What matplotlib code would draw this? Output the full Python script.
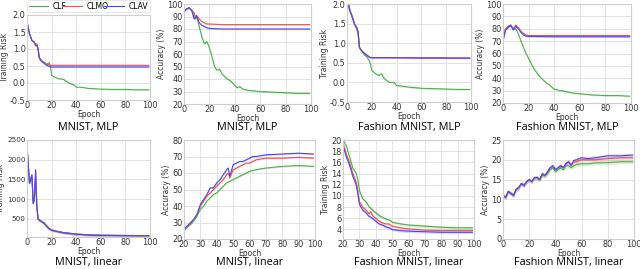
import matplotlib
matplotlib.use("Agg")
import matplotlib.pyplot as plt

# ---- data (epoch, value) ----
# MNIST, MLP - training risk
m_mlp_risk_ep = [0, 2, 4, 6, 7, 8, 9, 10, 12, 14, 16, 18, 19, 20, 22, 24, 26, 28, 30, 32, 34, 36, 38, 40, 45, 50, 60, 70, 80, 90, 99]
m_mlp_risk_clf = [1.8, 1.45, 1.25, 1.2, 1.1, 1.15, 1.0, 0.75, 0.65, 0.6, 0.55, 0.6, 0.5, 0.22, 0.18, 0.15, 0.12, 0.12, 0.1, 0.05, 0.0, -0.03, -0.05, -0.12, -0.13, -0.16, -0.18, -0.19, -0.19, -0.2, -0.2]
m_mlp_risk_ep2 = [0, 2, 4, 6, 7, 8, 9, 10, 12, 14, 16, 18, 20, 40, 60, 80, 99]
m_mlp_risk_clmo = [1.8, 1.45, 1.25, 1.2, 1.1, 1.15, 1.0, 0.75, 0.65, 0.6, 0.55, 0.53, 0.52, 0.52, 0.52, 0.52, 0.52]
m_mlp_risk_clav = [1.8, 1.45, 1.25, 1.2, 1.1, 1.1, 1.0, 0.72, 0.63, 0.57, 0.52, 0.49, 0.47, 0.47, 0.47, 0.47, 0.47]

# MNIST, MLP - accuracy
m_mlp_acc_ep = [0, 2, 4, 6, 8, 9, 10, 12, 14, 16, 18, 20, 22, 24, 26, 28, 30, 32, 34, 36, 38, 40, 42, 44, 46, 50, 55, 60, 70, 80, 90, 99]
m_mlp_acc_clf = [94, 96, 97, 95, 93, 88, 90, 82, 74, 68, 70, 65, 58, 50, 47, 48, 44, 42, 40, 39, 37, 35, 33, 34, 32, 31, 30.5, 30, 29.5, 29, 28.5, 28.5]
m_mlp_acc_ep2 = [0, 2, 4, 6, 8, 10, 12, 14, 16, 18, 20, 30, 60, 99]
m_mlp_acc_clmo = [94, 96, 97, 95, 90, 91, 88, 86, 85, 84, 84, 83.5, 83.5, 83.5]
m_mlp_acc_clav = [94, 96, 97, 95, 88, 90, 85, 83, 82, 81, 80.5, 80, 80, 80]

# Fashion MNIST, MLP - training risk
f_mlp_risk_ep = [0, 2, 4, 6, 8, 9, 10, 12, 14, 16, 18, 19, 20, 22, 24, 26, 28, 29, 30, 32, 34, 38, 40, 45, 50, 60, 70, 80, 90, 99]
f_mlp_risk_clf = [2.2, 1.9, 1.7, 1.5, 1.35, 1.2, 0.9, 0.8, 0.7, 0.65, 0.55, 0.45, 0.3, 0.25, 0.2, 0.18, 0.22, 0.15, 0.1, 0.05, 0.0, 0.0, -0.08, -0.1, -0.12, -0.15, -0.16, -0.17, -0.18, -0.18]
f_mlp_risk_ep2 = [0, 2, 4, 6, 8, 9, 10, 12, 14, 16, 18, 20, 40, 60, 80, 99]
f_mlp_risk_clmo = [2.2, 1.85, 1.7, 1.5, 1.4, 1.3, 0.9, 0.8, 0.75, 0.7, 0.65, 0.63, 0.63, 0.63, 0.63, 0.62]
f_mlp_risk_clav = [2.2, 1.85, 1.68, 1.48, 1.38, 1.28, 0.88, 0.8, 0.74, 0.69, 0.64, 0.63, 0.63, 0.62, 0.62, 0.62]

# Fashion MNIST, MLP - accuracy
f_mlp_acc_ep = [0, 2, 4, 6, 8, 10, 12, 14, 16, 18, 20, 22, 24, 26, 28, 30, 32, 34, 36, 38, 40, 42, 44, 46, 50, 55, 60, 70, 80, 90, 99]
f_mlp_acc_clf = [72, 80, 82, 83, 80, 80, 76, 70, 65, 60, 56, 52, 48, 45, 42, 40, 38, 36, 35, 33, 31, 31, 30, 30, 29, 28, 27.5, 26.5, 26, 26, 25.5]
f_mlp_acc_ep2 = [0, 2, 4, 6, 8, 10, 12, 14, 16, 18, 20, 40, 60, 99]
f_mlp_acc_clmo = [72, 80, 82, 82, 80, 83, 81, 78, 76, 75, 74.5, 74.5, 74.5, 74.5]
f_mlp_acc_clav = [70, 79, 81, 83, 79, 82, 80, 77, 75, 74, 73.8, 73.5, 73.5, 73.5]

# MNIST, linear - training risk
m_lin_risk_ep = [0, 2, 4, 5, 6, 7, 8, 9, 10, 12, 14, 16, 18, 20, 25, 30, 40, 50, 60, 80, 99]
m_lin_risk_clf = [2350, 1400, 1550, 900, 950, 1500, 800, 520, 480, 430, 400, 330, 260, 220, 180, 150, 115, 95, 85, 78, 72]
m_lin_risk_clmo = [2350, 1450, 1600, 950, 1000, 1650, 850, 500, 470, 420, 390, 310, 250, 215, 178, 148, 112, 93, 83, 76, 70]
m_lin_risk_clav = [2350, 1400, 1620, 880, 1050, 1750, 780, 490, 460, 430, 380, 300, 245, 212, 175, 146, 110, 92, 82, 75, 70]

# MNIST, linear - accuracy
m_lin_acc_ep = [20, 22, 24, 26, 28, 30, 32, 34, 36, 38, 40, 42, 44, 46, 47, 48, 50, 52, 54, 56, 58, 60, 62, 64, 70, 80, 90, 99]
m_lin_acc_clf = [25, 27, 29, 31, 34, 38, 40, 43, 45, 47, 48, 50, 52, 54, 54.5, 55, 56, 57, 58, 59, 60, 61, 61.5, 62, 63, 64, 64.5, 64]
m_lin_acc_clmo = [26, 28, 29, 32, 35, 40, 43, 46, 48, 50, 52, 54, 56, 59, 60, 57, 62, 63, 64, 65, 66, 66, 67, 68, 69, 69, 69.5, 69]
m_lin_acc_clav = [26, 28, 30, 32, 35, 41, 44, 47, 51, 51, 54, 56, 59, 62, 63, 58, 65, 66, 67, 67, 68, 69, 70, 70, 71, 71.5, 72, 71.5]

# Fashion MNIST, linear - training risk
f_lin_risk_ep = [20, 22, 24, 26, 28, 29, 30, 32, 34, 36, 37, 38, 40, 42, 44, 46, 48, 49, 50, 55, 60, 70, 80, 90, 99]
f_lin_risk_clf = [20, 19, 17, 15, 14, 13, 11, 9.5, 9, 8, 7.8, 7.5, 7, 6.5, 6.2, 5.9, 5.7, 5.6, 5.3, 5.0, 4.8, 4.6, 4.4, 4.3, 4.3]
f_lin_risk_clmo = [19.5, 17.5, 16, 14, 12.5, 11, 9, 8, 7.5, 6.8, 7.2, 6.5, 6, 5.5, 5.2, 5, 5, 4.8, 4.6, 4.3, 4.1, 3.9, 3.8, 3.8, 3.8]
f_lin_risk_clav = [19, 17, 15.5, 13.5, 12, 10.5, 8.5, 7.5, 7, 6.3, 6.2, 6, 5.5, 5, 4.8, 4.5, 4.3, 4.2, 4, 3.8, 3.7, 3.6, 3.5, 3.5, 3.5]

# Fashion MNIST, linear - accuracy
f_lin_acc_ep = [0, 2, 4, 6, 8, 10, 12, 14, 16, 18, 20, 22, 24, 26, 28, 30, 32, 34, 36, 38, 40, 42, 44, 46, 48, 50, 52, 54, 56, 60, 65, 70, 80, 90, 99]
f_lin_acc_clf = [11, 10.5, 12, 11.5, 11, 12.5, 13, 14, 13.5, 14.5, 15, 14.5, 15.5, 15.5, 15, 16, 16, 16.5, 17.5, 18, 17, 17.5, 18, 17.5, 18.5, 18.5, 18, 18.5, 18.8, 19, 19, 19.2, 19.3, 19.5, 19.5]
f_lin_acc_clmo = [11, 10.5, 12, 11.5, 11, 12.5, 13, 14, 13.5, 14.5, 15, 14.5, 15.5, 15.5, 15, 16.5, 16, 17, 18, 18.5, 17.5, 18, 18.5, 18, 19, 19.5, 18.5, 19.5, 19.5, 20, 20, 20, 20.3, 20.5, 20.5]
f_lin_acc_clav = [11, 10.5, 12, 11.5, 11, 12.5, 13, 14, 13.5, 14.5, 15, 14.5, 15.5, 15.5, 15, 16.5, 16, 17, 18, 18.5, 17.5, 18, 18.5, 18, 19, 19.5, 18.7, 19.8, 20, 20.5, 20.3, 20.5, 21, 21, 21.2]

names = ["CLF", "CLMO", "CLAV"]
colors = ["#4daf4a", "#f05050", "#4848f0"]

plt.rcParams["font.family"] = "DejaVu Sans"

fig = plt.figure(figsize=(6.4, 2.69), dpi=100)
W, H = 640.0, 269.0


def make_axes(l, r, t, b):
    return fig.add_axes([l / W, 1 - b / H, (r - l) / W, (b - t) / H])


def style(ax, xlim, ylim, xticks, yticks, ylabel, fmt=None):
    ax.set_xlim(*xlim)
    ax.set_ylim(*ylim)
    ax.set_xticks(xticks)
    ax.set_yticks(yticks)
    if fmt:
        ax.set_yticklabels([fmt.format(v) for v in yticks])
    ax.grid(True, color="#e3e3e3", linewidth=0.7)
    ax.set_axisbelow(True)
    for s in ax.spines.values():
        s.set_color("#cfcfcf")
        s.set_linewidth(0.8)
    ax.tick_params(length=0, labelsize=5.9, pad=1.0, colors="#333333")
    ax.set_xlabel("Epoch", fontsize=5.5, labelpad=-0.5, color="#333333")
    ax.set_ylabel(ylabel, fontsize=5.5, labelpad=1, color="#333333")


def curves(ax, ep_list, ys, band):
    for ep, y, c, n in zip(ep_list, ys, colors, names):
        lo = [v - band for v in y]
        hi = [v + band for v in y]
        ax.fill_between(ep, lo, hi, color=c, alpha=0.2, linewidth=0)
        ax.plot(ep, y, color=c, linewidth=0.8, label=n)


x100 = [0, 20, 40, 60, 80, 100]
x20 = [20, 30, 40, 50, 60, 70, 80, 90, 100]

ax1 = make_axes(27, 150, 15, 100)
curves(ax1, [m_mlp_risk_ep, m_mlp_risk_ep2, m_mlp_risk_ep2],
       [m_mlp_risk_clf, m_mlp_risk_clmo, m_mlp_risk_clav], 0.015)
style(ax1, (0, 100), (-0.5, 2.0), x100, [-0.5, 0.0, 0.5, 1.0, 1.5, 2.0], "Training Risk", "{:.1f}")
leg = ax1.legend(loc="lower left", bbox_to_anchor=(0.0, 1.03, 1.0, 0.1), mode="expand",
                 ncol=3, fontsize=5.5, frameon=True, borderpad=0.2, handlelength=2.6,
                 handletextpad=0.6, borderaxespad=0)
leg.get_frame().set_edgecolor("#dddddd")
leg.get_frame().set_linewidth(0.6)

ax2 = make_axes(184, 311, 4, 104)
curves(ax2, [m_mlp_acc_ep, m_mlp_acc_ep2, m_mlp_acc_ep2],
       [m_mlp_acc_clf, m_mlp_acc_clmo, m_mlp_acc_clav], 0.6)
style(ax2, (0, 100), (20, 100), x100, [20, 30, 40, 50, 60, 70, 80, 90, 100], "Accuracy (%)")

ax3 = make_axes(347, 471, 4, 102)
curves(ax3, [f_mlp_risk_ep, f_mlp_risk_ep2, f_mlp_risk_ep2],
       [f_mlp_risk_clf, f_mlp_risk_clmo, f_mlp_risk_clav], 0.02)
style(ax3, (0, 100), (-0.5, 2.0), x100, [-0.5, 0.0, 0.5, 1.0, 1.5, 2.0], "Training Risk", "{:.1f}")

ax4 = make_axes(503, 631, 4, 103)
curves(ax4, [f_mlp_acc_ep, f_mlp_acc_ep2, f_mlp_acc_ep2],
       [f_mlp_acc_clf, f_mlp_acc_clmo, f_mlp_acc_clav], 0.6)
style(ax4, (0, 100), (20, 100), x100, [20, 30, 40, 50, 60, 70, 80, 90, 100], "Accuracy (%)")

ax5 = make_axes(27, 150, 140, 237)
curves(ax5, [m_lin_risk_ep] * 3, [m_lin_risk_clf, m_lin_risk_clmo, m_lin_risk_clav], 30)
style(ax5, (0, 100), (40, 2500), x100, [500, 1000, 1500, 2000, 2500], "Training Risk")
ax5.tick_params(axis="y", labelsize=5.2)
ax5.yaxis.set_label_coords(-0.175, 0.5)

ax6 = make_axes(184, 315, 140, 239)
curves(ax6, [m_lin_acc_ep] * 3, [m_lin_acc_clf, m_lin_acc_clmo, m_lin_acc_clav], 0.5)
style(ax6, (20, 100), (20, 80), x20, [20, 30, 40, 50, 60, 70, 80], "Accuracy (%)")

ax7 = make_axes(343, 474, 140, 239)
curves(ax7, [f_lin_risk_ep] * 3, [f_lin_risk_clf, f_lin_risk_clmo, f_lin_risk_clav], 0.25)
style(ax7, (20, 100), (2.3, 20), x20, [4, 6, 8, 10, 12, 14, 16, 18, 20], "Training Risk")

ax8 = make_axes(503, 634, 140, 239)
curves(ax8, [f_lin_acc_ep] * 3, [f_lin_acc_clf, f_lin_acc_clmo, f_lin_acc_clav], 0.5)
style(ax8, (0, 100), (0, 25), x100, [0, 5, 10, 15, 20, 25], "Accuracy (%)")

titles_top = ["MNIST, MLP", "MNIST, MLP", "Fashion MNIST, MLP", "Fashion MNIST, MLP"]
titles_bot = ["MNIST, linear", "MNIST, linear", "Fashion MNIST, linear", "Fashion MNIST, linear"]
for ax, t in zip([ax1, ax2, ax3, ax4], titles_top):
    p = ax.get_position()
    fig.text((p.x0 + p.x1) / 2, 1 - 127 / H, t, ha="center", va="center", fontsize=7.8, family="Open Sans")
for ax, t in zip([ax5, ax6, ax7, ax8], titles_bot):
    p = ax.get_position()
    fig.text((p.x0 + p.x1) / 2, 1 - 263 / H, t, ha="center", va="center", fontsize=7.8, family="Open Sans")

fig.savefig("out.png", dpi=100)
